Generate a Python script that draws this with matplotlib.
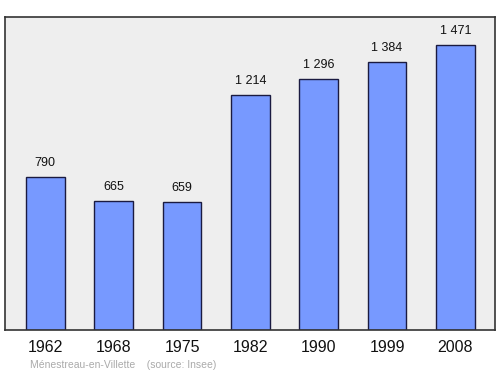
import matplotlib.pyplot as plt

years = ["1962", "1968", "1975", "1982", "1990", "1999", "2008"]
pop = [790, 665, 659, 1214, 1296, 1384, 1471]
labels = ["790", "665", "659", "1 214", "1 296", "1 384", "1 471"]

plt.rcParams['font.family'] = ['Liberation Sans', 'DejaVu Sans']

fig = plt.figure(figsize=(5, 3.74), dpi=100)
ax = fig.add_axes([0.01, 0.1176, 0.98, 0.837])
ax.set_facecolor("#eeeeee")

x = range(len(years))
ax.bar(x, pop, width=0.57, color="#7799ff", edgecolor="#1a1a40", linewidth=1)
for i, v in enumerate(pop):
    ax.text(i, v + 42, labels[i], ha="center", va="bottom", fontsize=9, color="#111111")

ax.set_xlim(-0.59, 6.58)
ax.set_ylim(0, 1616)
ax.set_xticks(list(x))
ax.set_xticklabels(years, fontsize=11.5, color="#111111")
ax.tick_params(axis="x", length=0, pad=7)
ax.set_yticks([])
for s in ax.spines.values():
    s.set_color("#333333")
    s.set_linewidth(1.2)

fig.text(0.06, 0.016, "Ménestreau-en-Villette    (source: Insee)", fontsize=7.5, color="#aaaaaa")

fig.savefig("out.png", dpi=100)
